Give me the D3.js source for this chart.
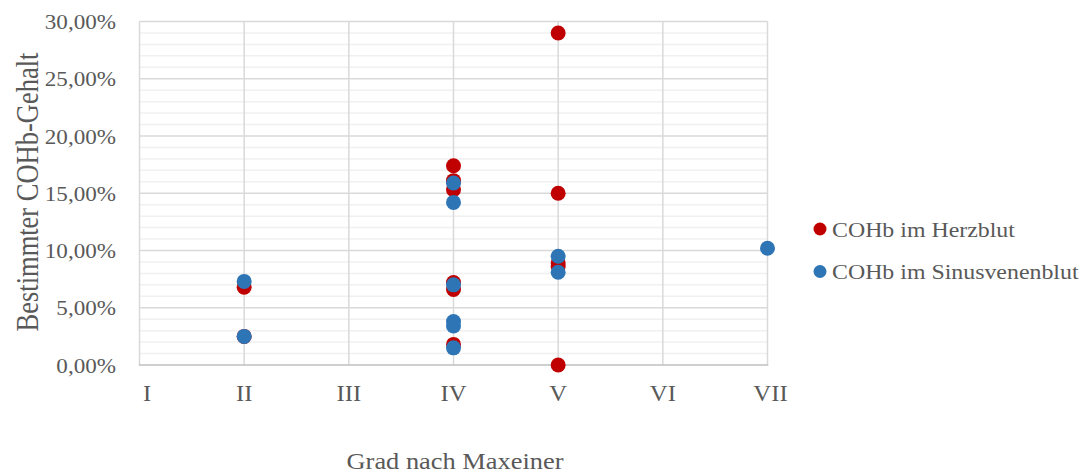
<!DOCTYPE html>
<html>
<head>
<meta charset="utf-8">
<script src="https://cdn.jsdelivr.net/npm/d3@7"></script>
<style>
  html, body { margin: 0; padding: 0; background: #fff; }
  svg { display: block; }
  text { font-family: "Liberation Serif", "Times New Roman", serif; fill: #595959; }
</style>
</head>
<body>
<svg id="chart" width="1085" height="474"></svg>
<script>
// Grade categories (Maxeiner scale) and their Roman labels
const grades = [1, 2, 3, 4, 5, 6, 7];
const gradeLabels = ["I", "II", "III", "IV", "V", "VI", "VII"];

// COHb measured in heart blood: grade and value per case
const herzGrade = [2, 2, 4, 4, 4, 4, 4, 4, 5, 5, 5, 5, 5];
const herzValue = [0.068, 0.025, 0.174, 0.161, 0.153, 0.072, 0.066, 0.018, 0.29, 0.15, 0.089, 0.086, 0.0];

// COHb measured in sinus venous blood: grade and value per case
const sinusGrade = [2, 2, 4, 4, 4, 4, 4, 4, 5, 5, 7];
const sinusValue = [0.073, 0.025, 0.159, 0.142, 0.070, 0.038, 0.034, 0.015, 0.095, 0.081, 0.102];

// Y-axis ticks
const yMajorTicks = [0, 0.05, 0.10, 0.15, 0.20, 0.25, 0.30];
const yMinorTicks = d3.range(0, 31).map(d => d / 100);

const seriesNames = ["COHb im Herzblut", "COHb im Sinusvenenblut"];
const seriesColors = ["#C00000", "#2E75B6"];

const svg = d3.select("#chart");

const x = d3.scaleLinear().domain([1, 7]).range([139.5, 767.5]);
const y = d3.scaleLinear().domain([0, 0.30]).range([365, 21.5]);

const fmt = v => d3.format(".2f")(v * 100).replace(".", ",") + "%";

// Minor horizontal gridlines
svg.append("g").selectAll("line")
  .data(yMinorTicks.filter(t => Math.round(t * 100) % 5 !== 0))
  .join("line")
  .attr("x1", x(1)).attr("x2", x(7))
  .attr("y1", d => y(d)).attr("y2", d => y(d))
  .attr("stroke", "#f0f0f0").attr("stroke-width", 1.5);

// Major horizontal gridlines
svg.append("g").selectAll("line")
  .data(yMajorTicks.filter(t => t > 0))
  .join("line")
  .attr("x1", x(1)).attr("x2", x(7))
  .attr("y1", d => y(d)).attr("y2", d => y(d))
  .attr("stroke", "#d9d9d9").attr("stroke-width", 1.5);

// Vertical gridlines at each grade
svg.append("g").selectAll("line")
  .data(grades)
  .join("line")
  .attr("x1", d => x(d)).attr("x2", d => x(d))
  .attr("y1", y(0.30)).attr("y2", y(0))
  .attr("stroke", "#d9d9d9").attr("stroke-width", 1.5);

// Horizontal axis line
svg.append("line")
  .attr("x1", x(1) - 0.75).attr("x2", x(7) + 0.75)
  .attr("y1", y(0)).attr("y2", y(0))
  .attr("stroke", "#bfbfbf").attr("stroke-width", 1.5);

// Y tick labels
svg.append("g").selectAll("text")
  .data(yMajorTicks)
  .join("text")
  .attr("text-anchor", "end")
  .attr("font-size", 22)
  .attr("transform", d => `translate(116,${y(d) + 7.5}) scale(1.05,1)`)
  .text(fmt);

// X tick labels
svg.append("g").selectAll("text")
  .data(grades)
  .join("text")
  .attr("text-anchor", "middle")
  .attr("font-size", 22.5)
  .attr("transform", (d, i) => `translate(${x(d) + (i === 0 ? 7.5 : 0) + (i === 6 ? 3 : 0)},400.5) scale(1.1,1)`)
  .text((d, i) => gradeLabels[i]);

// Axis titles
svg.append("text")
  .attr("text-anchor", "middle")
  .attr("font-size", 24)
  .attr("transform", `translate(455,469) scale(1.1,1)`)
  .text("Grad nach Maxeiner");

svg.append("text")
  .attr("text-anchor", "middle")
  .attr("font-size", 26.5)
  .attr("transform", `translate(38,192) rotate(-90) scale(1,1.2)`)
  .text("Bestimmter COHb-Gehalt");

// Data points
const series = [
  { grade: herzGrade, value: herzValue },
  { grade: sinusGrade, value: sinusValue }
];
series.forEach((s, k) => {
  svg.append("g").selectAll("circle")
    .data(s.value)
    .join("circle")
    .attr("cx", (d, i) => x(s.grade[i]))
    .attr("cy", d => y(d))
    .attr("r", 7.5)
    .attr("fill", seriesColors[k]);
});

// Legend
const legend = svg.append("g").selectAll("g")
  .data(seriesNames)
  .join("g")
  .attr("transform", (d, i) => `translate(820,${229 + i * 42.5})`);
legend.append("circle")
  .attr("r", 6.5)
  .attr("fill", (d, i) => seriesColors[i]);
legend.append("text")
  .attr("font-size", 21.7)
  .attr("transform", `translate(12,7.5) scale(1.1,1)`)
  .text(d => d);
</script>
</body>
</html>
